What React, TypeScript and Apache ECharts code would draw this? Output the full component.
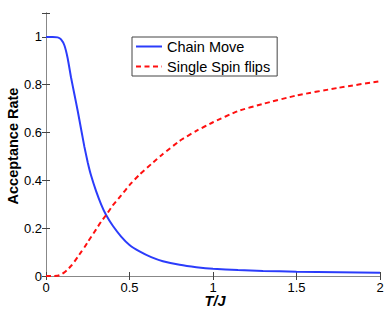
import React, { useEffect, useRef } from "react";
import * as echarts from "echarts";

const temps = [0, 0.04, 0.07, 0.09, 0.11, 0.13, 0.15, 0.17, 0.19, 0.21, 0.23, 0.25, 0.27, 0.3, 0.33, 0.36, 0.4, 0.45, 0.5, 0.56, 0.63, 0.7, 0.8, 0.9, 1.0, 1.15, 1.3, 1.5, 1.75, 2.0];
const chainMove = [1, 1, 0.998, 0.99, 0.965, 0.91, 0.83, 0.76, 0.69, 0.615, 0.54, 0.475, 0.42, 0.355, 0.3, 0.255, 0.21, 0.165, 0.13, 0.103, 0.079, 0.062, 0.047, 0.037, 0.03, 0.025, 0.021, 0.018, 0.016, 0.014];
const singleSpin = [0, 0, 0.001, 0.006, 0.015, 0.027, 0.042, 0.06, 0.08, 0.1, 0.12, 0.142, 0.163, 0.195, 0.227, 0.255, 0.295, 0.337, 0.38, 0.424, 0.468, 0.51, 0.565, 0.607, 0.643, 0.69, 0.72, 0.755, 0.787, 0.815];
const seriesNames = ["Chain Move", "Single Spin flips"];
const xLabel = "T/J";
const yLabel = "Acceptance Rate";

const FONT = "'Liberation Sans', Arial, Helvetica, sans-serif";

export default function App() {
  const ref = useRef<HTMLDivElement>(null);
  useEffect(() => {
    if (!ref.current) return;
    const chart = echarts.init(ref.current, undefined, { renderer: "svg" });
    const tickStyle = { show: true, inside: true, length: 4, lineStyle: { color: "#444", width: 1 } };
    chart.setOption({
      animation: false,
      backgroundColor: "#fff",
      grid: { left: 46, top: 13, right: 8, bottom: 36 },
      legend: {
        orient: "vertical",
        left: 132,
        top: 37,
        padding: [2, 7, 2, 3],
        itemGap: 5,
        itemWidth: 26,
        itemHeight: 12,
        backgroundColor: "#fff",
        borderColor: "#444",
        borderWidth: 1,
        borderRadius: 0,
        itemStyle: { opacity: 0 },
        textStyle: { fontFamily: FONT, fontSize: 14.5, color: "#000" },
        data: seriesNames,
      },
      xAxis: [
        {
          type: "value",
          min: 0,
          max: 2,
          interval: 0.5,
          axisLine: { show: true, lineStyle: { color: "#222", width: 1 } },
          axisTick: tickStyle,
          splitLine: { show: false },
          axisLabel: { fontFamily: FONT, fontSize: 13, lineHeight: 12, color: "#000", margin: 5 },
        },
        {
          type: "value",
          position: "top",
          min: 0,
          max: 2,
          interval: 0.5,
          axisLine: { show: true, lineStyle: { color: "#888", width: 1 } },
          axisTick: tickStyle,
          splitLine: { show: false },
          axisLabel: { show: false },
        },
      ],
      yAxis: [
        {
          type: "value",
          min: 0,
          max: 1.1,
          interval: 0.2,
          axisLine: { show: true, lineStyle: { color: "#777", width: 1 } },
          axisTick: tickStyle,
          splitLine: { show: false },
          axisLabel: {
            fontFamily: FONT,
            fontSize: 13,
            color: "#000",
            margin: 4,
            formatter: (v: number) => (Math.abs(v - 1.1) < 1e-6 ? "" : String(Math.round(v * 10) / 10)),
          },
        },
        {
          type: "value",
          position: "right",
          min: 0,
          max: 1.1,
          interval: 0.2,
          axisLine: { show: true, lineStyle: { color: "#888", width: 1 } },
          axisTick: tickStyle,
          splitLine: { show: false },
          axisLabel: { show: false },
        },
      ],
      series: [
        {
          name: seriesNames[0],
          type: "line",
          xAxisIndex: 0,
          yAxisIndex: 0,
          data: temps.map((t, i) => [t, chainMove[i]]),
          showSymbol: false,
          symbol: "none",
          smooth: 0.15,
          lineStyle: { color: "#2b3cfb", width: 2 },
          itemStyle: { color: "#2b3cfb" },
        },
        {
          name: seriesNames[1],
          type: "line",
          xAxisIndex: 0,
          yAxisIndex: 0,
          data: temps.map((t, i) => [t, singleSpin[i]]),
          showSymbol: false,
          symbol: "none",
          smooth: 0.15,
          lineStyle: { color: "#ff1010", width: 2, type: [5, 3.5] },
          itemStyle: { color: "#ff1010" },
        },
      ],
      graphic: [
        {
          type: "text",
          x: 12.5,
          y: 146,
          rotation: Math.PI / 2,
          style: {
            text: yLabel,
            align: "center",
            verticalAlign: "middle",
            font: `bold 14.5px ${FONT}`,
            fill: "#000",
          },
        },
        {
          type: "text",
          x: 215,
          y: 301,
          style: {
            text: xLabel,
            align: "center",
            verticalAlign: "middle",
            lineHeight: 13,
            font: `italic bold 14.5px ${FONT}`,
            fill: "#000",
          },
        },
      ],
    });
    return () => chart.dispose();
  }, []);
  return <div ref={ref} style={{ width: 388, height: 312, position: "absolute", left: 0, top: 0 }} />;
}
